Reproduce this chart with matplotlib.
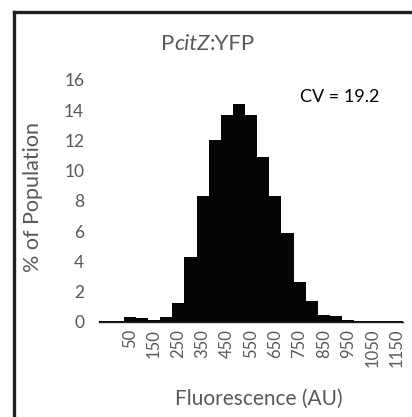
import matplotlib
matplotlib.use("Agg")
import matplotlib.pyplot as plt
from matplotlib.lines import Line2D

# bin centres (AU) and % of population
bins = [-50, 0, 50, 100, 150, 200, 250, 300, 350, 400, 450, 500, 550,
        600, 650, 700, 750, 800, 850, 900, 950, 1000, 1050, 1100, 1150]
percent = [0.03, 0.08, 0.32, 0.25, 0.10, 0.30, 1.25, 4.30, 8.35, 12.0, 13.65,
           14.4, 13.7, 10.9, 8.35, 5.9, 2.6, 1.37, 0.45, 0.38, 0.13, 0.07,
           0.07, 0.06, 0.04]
y_ticks = [0, 2, 4, 6, 8, 10, 12, 14, 16]
title_parts = ["P", "citZ", ":YFP"]
cv_text = "CV = 19.2"

plt.rcParams['font.family'] = ['Lato', 'DejaVu Sans']
grey = '#595959'

fig = plt.figure(figsize=(4.12, 4.17), dpi=100)
ax = fig.add_axes([0.2415, 0.2285, 0.7359, 0.5797])

x = list(range(len(bins)))
ax.bar(x, percent, width=1.0, color='#050505', linewidth=0)

ax.set_xlim(-0.5, len(bins) - 0.5)
ax.set_ylim(0, 16)
ax.set_yticks(y_ticks)
ax.set_yticklabels([str(v) for v in y_ticks], color=grey, fontsize=12.5)

tick_idx = [i for i, b in enumerate(bins) if b >= 50 and (b - 50) % 100 == 0]
ax.set_xticks(tick_idx)
ax.set_xticklabels([str(bins[i]) for i in tick_idx], rotation=90, color=grey,
                   fontsize=12)
ax.tick_params(axis='both', length=0)
ax.tick_params(axis='y', pad=11)
ax.tick_params(axis='x', pad=5)

for s in ['top', 'right', 'left']:
    ax.spines[s].set_visible(False)
ax.spines['bottom'].set_color('#222222')
ax.spines['bottom'].set_linewidth(1.0)

fig.text(33 / 412, 1 - 197 / 417, '% of Population', color=grey,
         fontsize=15.5, ha='center', va='center', rotation=90)
fig.text(259 / 412, 1 - 399 / 417, 'Fluorescence (AU)', color=grey,
         fontsize=15, ha='center', va='center')

# title with italic part
t1 = fig.text(0, 0, title_parts[0], color=grey, fontsize=16)
t2 = fig.text(0, 0, title_parts[1], color=grey, fontsize=16, style='italic')
t3 = fig.text(0, 0, title_parts[2], color=grey, fontsize=16)
fig.canvas.draw()
r = fig.canvas.get_renderer()
ws = [t.get_window_extent(r).width for t in (t1, t2, t3)]
total = sum(ws)
cx = 208
xs = cx - total / 2
ypix = 417 - 44
for t, w in zip((t1, t2, t3), ws):
    t.set_position((xs / 412, ypix / 417))
    t.set_va('center')
    xs += w

fig.text(340 / 412, 1 - 97 / 417, cv_text, color='#000000', fontsize=13,
         ha='center', va='center')

# outer frame (left and top edges)
fig.add_artist(Line2D([13.5 / 412, 13.5 / 412], [0, 1 - 11.5 / 417],
                      color='#231f20', linewidth=2.4,
                      transform=fig.transFigure, solid_capstyle='projecting'))
fig.add_artist(Line2D([13.5 / 412, 1], [1 - 11.5 / 417, 1 - 11.5 / 417],
                      color='#231f20', linewidth=2.4,
                      transform=fig.transFigure, solid_capstyle='projecting'))

fig.savefig('out.png', dpi=100)
